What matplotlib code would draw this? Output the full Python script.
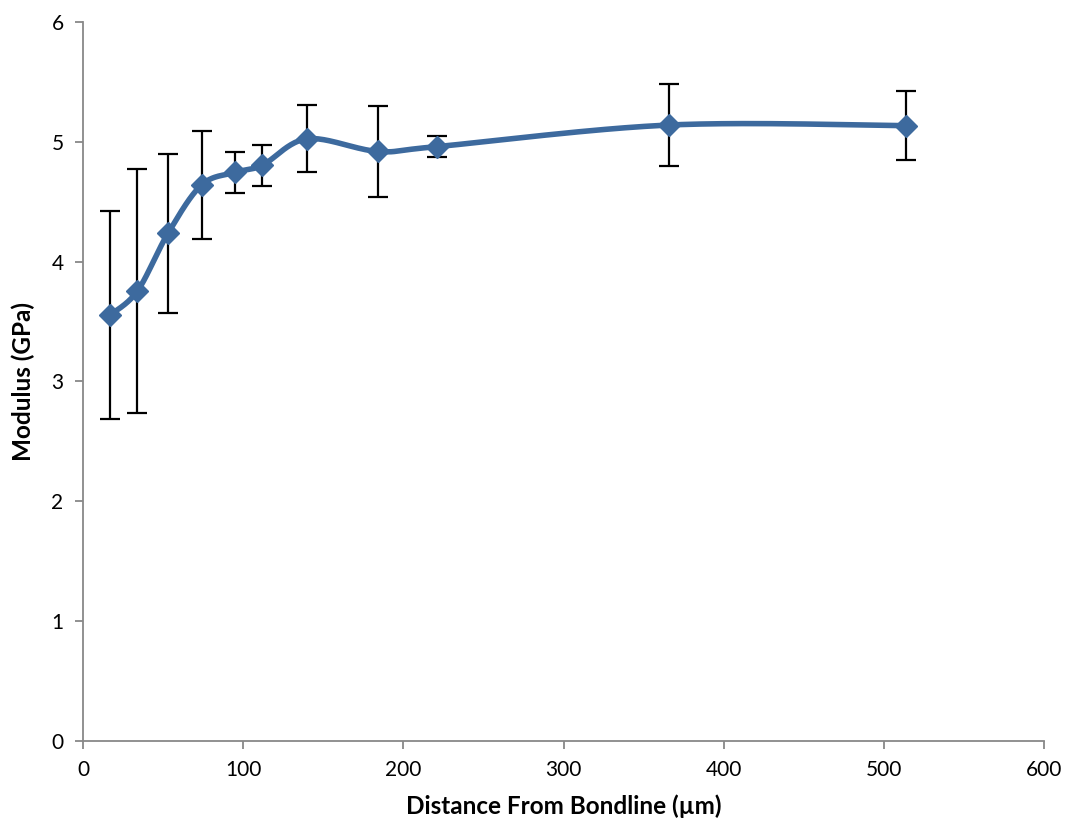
import numpy as np
import matplotlib
matplotlib.use('Agg')
import matplotlib.pyplot as plt

plt.rcParams['font.family'] = ['Lato', 'DejaVu Sans']

# data
distance = [17, 34, 53, 74, 95, 112, 140, 184, 221, 366, 514]
modulus = [3.555, 3.755, 4.235, 4.64, 4.745, 4.805, 5.025, 4.92, 4.96, 5.14, 5.135]
error = [0.865, 1.02, 0.66, 0.45, 0.17, 0.17, 0.28, 0.38, 0.09, 0.34, 0.29]

color = '#3D6A9E'

fig = plt.figure(figsize=(10.71, 8.32), dpi=100)
ax = fig.add_axes([0.0775, 0.1094, 0.8973, 0.8642])
ax.set_xlim(0, 600)
ax.set_ylim(0, 6)

# Excel-style smoothed line: cubic Bezier, control points from neighbours (1/6 tension)
x = np.array(distance, float)
y = np.array(modulus, float)
sx, sy = 961 / 600, 719 / 6  # work in pixel-like units so the curve looks right
P = np.column_stack([x * sx, y * sy])
Pext = np.vstack([P[0], P, P[-1]])
curve = []
t = np.linspace(0, 1, 40)[:, None]
for i in range(len(P) - 1):
    p0 = Pext[i + 1]
    p3 = Pext[i + 2]
    c1 = p0 + (Pext[i + 2] - Pext[i]) / 6
    c2 = p3 - (Pext[i + 3] - Pext[i + 1]) / 6
    seg = (1 - t) ** 3 * p0 + 3 * (1 - t) ** 2 * t * c1 + 3 * (1 - t) * t ** 2 * c2 + t ** 3 * p3
    curve.append(seg)
curve = np.vstack(curve)
ax.plot(curve[:, 0] / sx, curve[:, 1] / sy, color=color, lw=4, solid_capstyle='round', zorder=2)

ax.errorbar(distance, modulus, yerr=error, fmt='none', ecolor='black', elinewidth=1.6,
            capsize=7, capthick=1.6, zorder=1)
ax.plot(distance, modulus, 'D', color=color, ms=11, zorder=3)

for s in ['top', 'right']:
    ax.spines[s].set_visible(False)
for s in ['left', 'bottom']:
    ax.spines[s].set_color('#888888')
    ax.spines[s].set_linewidth(1.3)
ax.tick_params(direction='out', length=6, width=1.3, color='#888888', labelsize=15, pad=8)
ax.set_xticks(range(0, 601, 100))
ax.set_yticks(range(0, 7))

ax.set_xlabel('Distance From Bondline (µm)', fontsize=17.5, fontweight='bold', labelpad=10)
ax.set_ylabel('Modulus (GPa)', fontsize=17.5, fontweight='bold', labelpad=12)

fig.savefig('out.png', dpi=100)
